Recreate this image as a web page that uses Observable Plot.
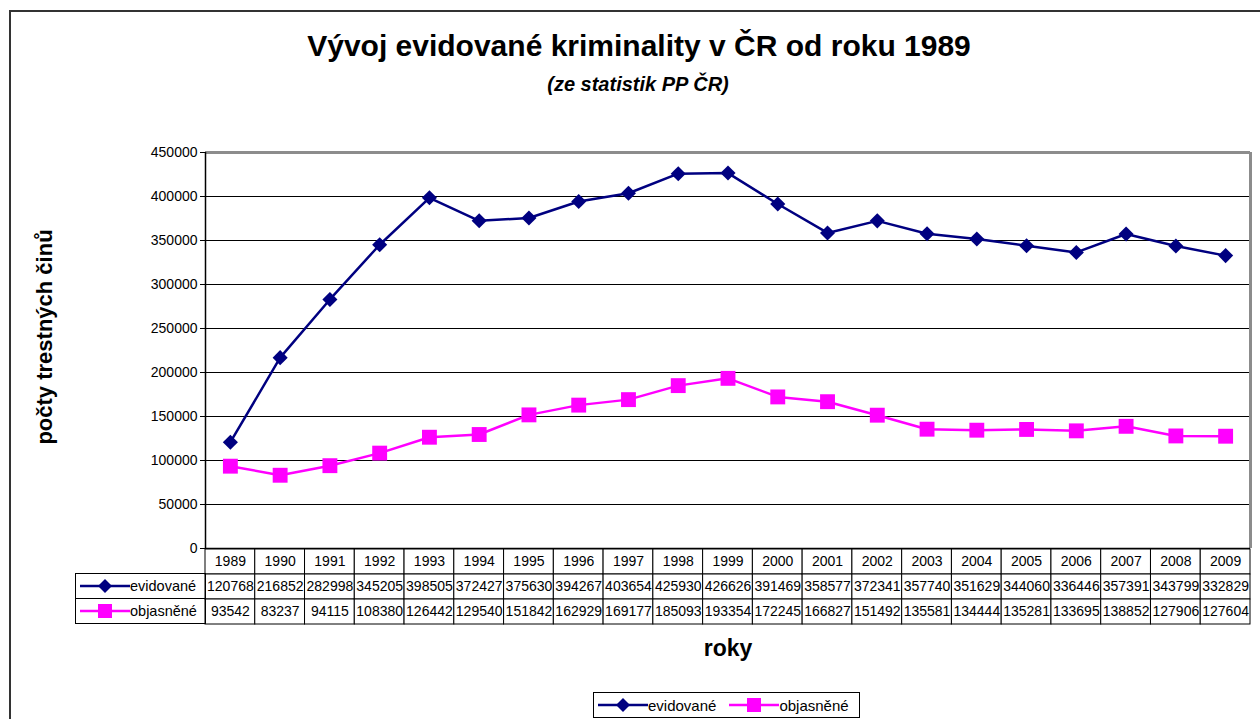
<!DOCTYPE html>
<html><head><meta charset="utf-8">
<script src="https://cdn.jsdelivr.net/npm/d3@7"></script>
<script src="https://cdn.jsdelivr.net/npm/@observablehq/plot@0.6"></script>
<style>
body{margin:0;background:#fff;font-family:"Liberation Sans",Arial,sans-serif;color:#000;}
#wrap{position:relative;width:1260px;height:719px;overflow:hidden;background:#fff;}
.abs{position:absolute;}
#wrap svg{position:absolute;left:0;top:0;overflow:visible;}
</style></head><body><div id="wrap"></div>
<script>
const years=[1989,1990,1991,1992,1993,1994,1995,1996,1997,1998,1999,2000,2001,2002,2003,2004,2005,2006,2007,2008,2009];
const evidovane=[120768,216852,282998,345205,398505,372427,375630,394267,403654,425930,426626,391469,358577,372341,357740,351629,344060,336446,357391,343799,332829];
const objasnene=[93542,83237,94115,108380,126442,129540,151842,162929,169177,185093,193354,172245,166827,151492,135581,134444,135281,133695,138852,127906,127604];
const seriesNames=["evidované","objasněné"];
const seriesColors=["#000080","#ff00ff"];
const yTicks=[0,50000,100000,150000,200000,250000,300000,350000,400000,450000];
const titleText="Vývoj evidované kriminality v ČR od roku 1989";
const subtitleText="(ze statistik PP ČR)";
const yLabelText="počty trestných činů";
const xLabelText="roky";
const yearRow="rok";

const wrap=document.getElementById("wrap");
const font='"Liberation Sans", Arial, sans-serif';

function addDiv(css, html){const d=document.createElement("div");d.className="abs";d.style.cssText=css;if(html!==undefined)d.innerHTML=html;wrap.appendChild(d);return d;}

// outer frame
addDiv("left:9px;top:10px;width:1400px;height:900px;border:2px solid #333;box-sizing:border-box;");
// title & subtitle
addDiv("left:9px;top:29px;width:1260px;text-align:center;font-weight:bold;font-size:30px;line-height:34px;").textContent=titleText;
addDiv("left:9px;top:72px;width:1258px;text-align:center;font-weight:bold;font-style:italic;font-size:20px;line-height:24px;").textContent=subtitleText;

const series=[evidovane,objasnene].map((vals,k)=>years.map((y,i)=>({year:y,value:vals[i],series:seriesNames[k]})));
const xDomain=[years[0]-0.5,years[years.length-1]+0.5];

const chart=Plot.plot({
  width:1260,height:626,marginTop:152,marginBottom:78,marginLeft:205,marginRight:10,
  style:{background:"transparent",fontFamily:font,fontSize:"14px",color:"#000"},
  x:{domain:xDomain,axis:null},
  y:{domain:[0,450000],axis:null},
  marks:[
    Plot.ruleY(yTicks.slice(1,-1),{stroke:"#000",strokeWidth:1}),
    Plot.ruleY([yTicks[yTicks.length-1]],{stroke:"#8c8c8c",strokeWidth:3}),
    Plot.ruleX([xDomain[1]],{stroke:"#8c8c8c",strokeWidth:3}),
    Plot.ruleX([xDomain[0]],{stroke:"#000",strokeWidth:1.5}),
    Plot.ruleY([0],{stroke:"#000",strokeWidth:1.5}),
    Plot.axisY({ticks:yTicks,label:null,tickSize:5,tickPadding:3,tickFormat:d=>String(d),fontSize:14,stroke:"#000"}),
    Plot.line(series[0],{x:"year",y:"value",stroke:seriesColors[0],strokeWidth:2.5}),
    Plot.line(series[1],{x:"year",y:"value",stroke:seriesColors[1],strokeWidth:2.5}),
    Plot.dot(series[0],{x:"year",y:"value",fill:seriesColors[0],symbol:"diamond2",r:6.8}),
    Plot.dot(series[1],{x:"year",y:"value",fill:seriesColors[1],symbol:"square",r:8.4})
  ]
});
wrap.appendChild(chart);

// data table
const rows=[yearRow,...seriesNames];
const cells=years.flatMap((y,i)=>[
  {year:y,row:yearRow,text:String(y)},
  {year:y,row:seriesNames[0],text:String(evidovane[i])},
  {year:y,row:seriesNames[1],text:String(objasnene[i])}
]);
const table=Plot.plot({
  width:1260,height:624,marginTop:548,marginBottom:0,marginLeft:205,marginRight:10,
  style:{background:"transparent",fontFamily:font,fontSize:"14px",color:"#000"},
  x:{domain:xDomain,axis:null},
  y:{domain:rows,axis:null,padding:0},
  marks:[
    Plot.barX(cells,{x1:d=>d.year-0.5,x2:d=>d.year+0.5,y:"row",fill:"white",stroke:"#000",strokeWidth:1}),
    Plot.text(cells,{x:"year",y:"row",text:"text",fontSize:14,fill:"#000"})
  ]
});
wrap.appendChild(table);

// key column of the table
function swatch(k){
  const shape=k===0
    ? `<path d="M29,6 L36,13 L29,20 L22,13 Z" fill="${seriesColors[0]}"/>`
    : `<rect x="22" y="6" width="14" height="14" fill="${seriesColors[1]}"/>`;
  return `<svg width="58" height="26" style="position:static;display:block"><line x1="4" x2="54" y1="13" y2="13" stroke="${seriesColors[k]}" stroke-width="2.5"/>${shape}</svg>`;
}
seriesNames.forEach((n,k)=>{
  addDiv(`left:75px;top:${573+k*25}px;width:131px;height:26px;border:1px solid #000;box-sizing:border-box;display:flex;align-items:center;font-size:14.5px;`,
    swatch(k)+`<span style="margin-left:-4px">${n}</span>`);
});

// axis titles
addDiv(`left:45px;top:337px;transform:translate(-50%,-50%) rotate(-90deg);white-space:nowrap;font-weight:bold;font-size:22px;`).textContent=yLabelText;
addDiv(`left:728px;top:648px;transform:translate(-50%,-50%);white-space:nowrap;font-weight:bold;font-size:23px;`).textContent=xLabelText;

// legend
const leg=addDiv("left:593px;top:692px;width:267px;height:26px;border:1px solid #000;box-sizing:border-box;display:flex;align-items:center;font-size:15px;");
leg.innerHTML=seriesNames.map((n,k)=>`<div style="display:flex;align-items:center;margin-right:${k===0?9:0}px">${swatch(k)}<span style="margin-left:-4px">${n}</span></div>`).join("");
</script></body></html>
